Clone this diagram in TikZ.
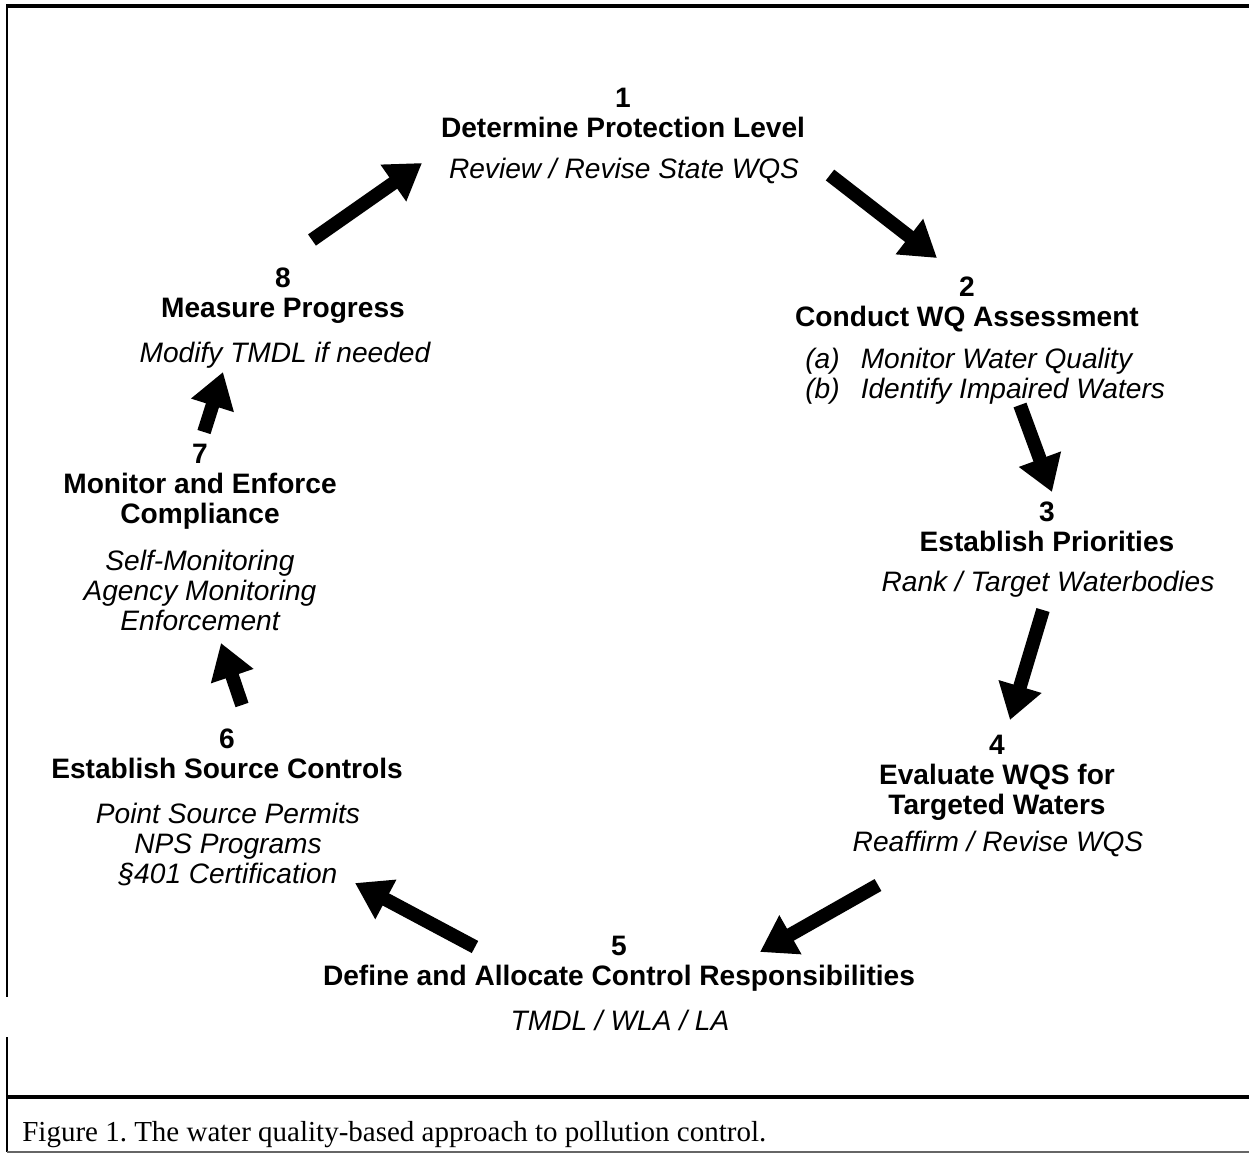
\documentclass[tikz,border=0pt]{standalone}
\usepackage{fontspec}
\setmainfont{Liberation Sans}
\newfontfamily\figcapfont{Liberation Serif}
\usetikzlibrary{arrows.meta}

\begin{document}
\begin{tikzpicture}[x=0.02cm, y=-0.02cm,
    steptitle/.style={font=\fontsize{16}{17}\selectfont\bfseries, align=center, anchor=base, inner sep=0pt},
    stepnote/.style={font=\fontsize{16}{17}\selectfont\itshape, align=center, anchor=base, inner sep=0pt},
    cyclearrow/.style={draw=arrowColour, line width=7.8pt, -{Triangle[length=0.7cm, width=0.85cm]}}]
    \definecolor{frameColour}{HTML}{000000}
    \definecolor{arrowColour}{HTML}{000000}

    \useasboundingbox (0,0) rectangle (1249,1154);

    % Draw frame
    \draw[frameColour, line width=2.2pt] (6,6) -- (1249,6);
    \draw[frameColour, line width=1.2pt] (7,6) -- (7,997);
    \draw[frameColour, line width=1.2pt] (7,1037) -- (7,1152);
    \draw[frameColour, line width=1.8pt] (7,1097) -- (1249,1097);
    \draw[frameColour!60, line width=0.8pt] (7,1152) -- (1249,1152);

    % Steps of the cycle (base = baseline of last line)
    \node[steptitle] (n1) at (623,137) {1\\Determine Protection Level};
    \node[stepnote]  (d1) at (624,178) {Review / Revise State WQS};

    \node[steptitle] (n2) at (967,326) {2\\Conduct WQ Assessment};
    \node[stepnote, align=left, anchor=base west] (d2) at (805,398)
        {(a)\hspace{0.75em}Monitor Water Quality\\(b)\hspace{0.75em}Identify Impaired Waters};

    \node[steptitle] (n3) at (1047,551) {3\\Establish Priorities};
    \node[stepnote]  (d3) at (1048,591) {Rank / Target Waterbodies};

    \node[steptitle] (n4) at (997,814) {4\\Evaluate WQS for\\Targeted Waters};
    \node[stepnote]  (d4) at (998,851) {Reaffirm / Revise WQS};

    \node[steptitle] (n5) at (619,985) {5\\Define and Allocate Control Responsibilities};
    \node[stepnote]  (d5) at (620,1030) {TMDL / WLA / LA};

    \node[steptitle] (n6) at (227,778) {6\\Establish Source Controls};
    \node[stepnote]  (d6) at (228,883) {Point Source Permits\\NPS Programs\\\S401 Certification};

    \node[steptitle] (n7) at (200,523) {7\\Monitor and Enforce\\Compliance};
    \node[stepnote]  (d7) at (200,630) {Self-Monitoring\\Agency Monitoring\\Enforcement};

    \node[steptitle] (n8) at (283,317) {8\\Measure Progress};
    \node[stepnote]  (d8) at (285,362) {Modify TMDL if needed};

    % Arrow ends
    \coordinate (from8) at (312,240);  \coordinate (to1) at (422,163);
    \coordinate (from1) at (830,175);  \coordinate (to2) at (937,258);
    \coordinate (from2) at (1020,405); \coordinate (to3) at (1052,492);
    \coordinate (from3) at (1043,610); \coordinate (to4) at (1010,720);
    \coordinate (from4) at (878,885);  \coordinate (to5) at (760,952);
    \coordinate (from5) at (475,947);  \coordinate (to6) at (355,883);
    \coordinate (from6) at (242,705);  \coordinate (to7) at (221,643);
    \coordinate (from7) at (204,432);  \coordinate (to8) at (223,372);

    % Draw arrows
    \foreach \a/\b in {8/1,1/2,2/3,3/4,4/5,5/6,6/7,7/8}
        \draw[cyclearrow] (from\a) -- (to\b);

    % Caption
    \node[font=\figcapfont\fontsize{16.5}{18}\selectfont, anchor=base west, inner sep=0pt] (caption) at (22,1141)
        {\frenchspacing Figure 1. The water quality-based approach to pollution control.};

\end{tikzpicture}
\end{document}
